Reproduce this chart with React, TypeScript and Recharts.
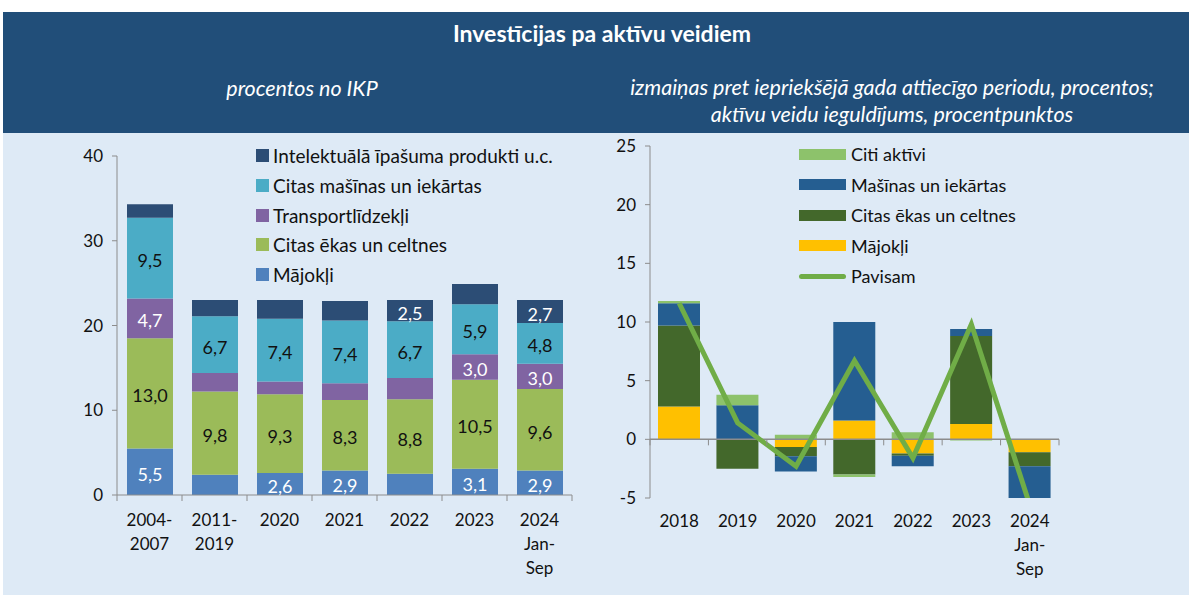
import React from "react";
import {
  BarChart, Bar, XAxis, YAxis, LabelList, ComposedChart, Line, ReferenceLine
} from "recharts";

// ---- left chart: procentos no IKP ----
const leftCats = ["2004-\n2007", "2011-\n2019", "2020", "2021", "2022", "2023", "2024\nJan-\nSep"];
const leftMajokli = [5.5, 2.4, 2.6, 2.9, 2.5, 3.1, 2.9];
const leftEkas = [13.0, 9.8, 9.3, 8.3, 8.8, 10.5, 9.6];
const leftTransport = [4.7, 2.2, 1.5, 2.0, 2.5, 3.0, 3.0];
const leftMasinas = [9.5, 6.7, 7.4, 7.4, 6.7, 5.9, 4.8];
const leftIP = [1.6, 1.9, 2.2, 2.3, 2.5, 2.4, 2.7];
// which segments carry a value label
const showMajokli = [1, 0, 1, 1, 0, 1, 1];
const showEkas = [1, 1, 1, 1, 1, 1, 1];
const showTransport = [1, 0, 0, 0, 0, 1, 1];
const showMasinas = [1, 1, 1, 1, 1, 1, 1];
const showIP = [0, 0, 0, 0, 1, 0, 1];
const leftTicks = [0, 10, 20, 30, 40];

// ---- right chart: izmaiņas, procenti / procentpunkti ----
const rightCats = ["2018", "2019", "2020", "2021", "2022", "2023", "2024\nJan-\nSep"];
const rightMajokli = [2.8, 0, -0.65, 1.6, -1.2, 1.3, -1.1];
const rightEkas = [6.9, -2.5, -0.8, -3.0, -0.2, 7.5, -1.2];
const rightMasinas = [1.9, 2.9, -1.3, 8.4, -0.9, 0.6, -3.3];
const rightCiti = [0.2, 0.9, 0.4, -0.2, 0.6, -0.1, 0];
const rightPavisam = [11.6, 1.4, -2.3, 6.7, -1.6, 9.8, -5.6];
const rightTicks = [-5, 0, 5, 10, 15, 20, 25];

const FONT = "Lato, 'Open Sans', sans-serif";
const AXIS = "#8c8c8c";

const C = {
  ip: "#2C4D75",
  masinas: "#4BACC6",
  transport: "#8064A2",
  ekas: "#9BBB59",
  majokli: "#4F81BD",
  rCiti: "#8DC26B",
  rMasinas: "#255E91",
  rEkas: "#43682B",
  rMajokli: "#FFC000",
  rPavisam: "#70AD47",
};

const leftData = leftCats.map((cat, i) => ({
  cat,
  majokli: leftMajokli[i],
  ekas: leftEkas[i],
  transport: leftTransport[i],
  masinas: leftMasinas[i],
  ip: leftIP[i],
}));

const rightData = rightCats.map((cat, i) => ({
  cat,
  majokli: rightMajokli[i],
  ekas: rightEkas[i],
  masinas: rightMasinas[i],
  citi: rightCiti[i],
  pavisam: rightPavisam[i],
}));

// geometry of the two plots (chart-local)
const L = { w: 600, h: 462, top: 23, bottom: 100, left: 117, right: 28 };
const R = { w: 589, h: 462, top: 13, bottom: 97, left: 50, right: 130 };
const lPlotBottom = L.h - L.bottom;
const lBand = (L.w - L.left - L.right) / leftCats.length;
const rPlotH = R.h - R.top - R.bottom;
const rZeroY = R.top + rPlotH * (25 / 30);
const rBand = (R.w - R.left - R.right) / rightCats.length;

const fmt = (v: number) => v.toFixed(1).replace(".", ",");

function makeLabel(show: number[], color: string) {
  return (props: any) => {
    const { x, y, width, height, value, index } = props;
    if (!show[index]) return null;
    return (
      <text
        x={x + width / 2}
        y={y + height / 2 + 2}
        textAnchor="middle"
        dominantBaseline="central"
        fontSize={18}
        fontFamily={FONT}
        fill={color}
      >
        {fmt(value)}
      </text>
    );
  };
}

function CatTick(props: any) {
  const { x, payload, index, lineY, textY, band, count } = props;
  const lines = String(payload.value).split("\n");
  return (
    <g>
      <line x1={x - band / 2} x2={x - band / 2} y1={lineY} y2={lineY + 6} stroke={AXIS} />
      {index === count - 1 && (
        <line x1={x + band / 2} x2={x + band / 2} y1={lineY} y2={lineY + 6} stroke={AXIS} />
      )}
      {lines.map((t, k) => (
        <text
          key={k}
          x={x}
          y={textY + k * 24}
          textAnchor="middle"
          dominantBaseline="central"
          fontSize={17}
          fontFamily={FONT}
          fill="#111"
        >
          {t}
        </text>
      ))}
    </g>
  );
}

const leftLegend = [
  { name: "Intelektuālā īpašuma produkti u.c.", color: C.ip },
  { name: "Citas mašīnas un iekārtas", color: C.masinas },
  { name: "Transportlīdzekļi", color: C.transport },
  { name: "Citas ēkas un celtnes", color: C.ekas },
  { name: "Mājokļi", color: C.majokli },
];

const rightLegend = [
  { name: "Citi aktīvi", color: C.rCiti, line: false },
  { name: "Mašīnas un iekārtas", color: C.rMasinas, line: false },
  { name: "Citas ēkas un celtnes", color: C.rEkas, line: false },
  { name: "Mājokļi", color: C.rMajokli, line: false },
  { name: "Pavisam", color: C.rPavisam, line: true },
];

export default function App() {
  return (
    <div style={{ position: "absolute", left: 0, top: 0, width: 1189, height: 595, background: "#fff", fontFamily: FONT, overflow: "hidden" }}>
      {/* header */}
      <div style={{ position: "absolute", left: 3, top: 12, width: 1186, height: 121, background: "#214E79" }} />
      <div style={{ position: "absolute", left: 602, top: 33, transform: "translate(-50%, -50%)", color: "#fff", fontWeight: 700, fontSize: 23, whiteSpace: "nowrap" }}>
        Investīcijas pa aktīvu veidiem
      </div>
      <div style={{ position: "absolute", left: 302, top: 88, transform: "translate(-50%, -50%)", color: "#fff", fontStyle: "italic", fontSize: 21.5, whiteSpace: "nowrap" }}>
        procentos no IKP
      </div>
      <div style={{ position: "absolute", left: 892, top: 101, transform: "translate(-50%, -50%)", color: "#fff", fontStyle: "italic", fontSize: 21.5, lineHeight: "27px", textAlign: "center", whiteSpace: "nowrap" }}>
        izmaiņas pret iepriekšējā gada attiecīgo periodu, procentos;<br />
        aktīvu veidu ieguldījums, procentpunktos
      </div>
      <div style={{ position: "absolute", left: 3, top: 133, width: 1186, height: 462, background: "#DEEAF6" }} />

      {/* left chart */}
      <div style={{ position: "absolute", left: 0, top: 133 }}>
        <BarChart width={L.w} height={L.h} data={leftData} margin={{ top: L.top, right: L.right, bottom: 20, left: 0 }} barSize={46}>
          <XAxis
            dataKey="cat"
            height={80}
            axisLine={{ stroke: AXIS }}
            tickLine={false}
            interval={0}
            tick={<CatTick lineY={lPlotBottom} textY={lPlotBottom + 24} band={lBand} count={leftCats.length} />}
          />
          <YAxis
            width={L.left}
            domain={[0, 40]}
            ticks={leftTicks}
            axisLine={{ stroke: AXIS }}
            tickLine={{ stroke: AXIS }}
            tickSize={5}
            tickMargin={9}
            tick={{ fontSize: 17, fill: "#111", fontFamily: FONT }}
          />
          <Bar dataKey="majokli" stackId="a" fill={C.majokli} isAnimationActive={false}>
            <LabelList dataKey="majokli" content={makeLabel(showMajokli, "#fff")} />
          </Bar>
          <Bar dataKey="ekas" stackId="a" fill={C.ekas} isAnimationActive={false}>
            <LabelList dataKey="ekas" content={makeLabel(showEkas, "#111")} />
          </Bar>
          <Bar dataKey="transport" stackId="a" fill={C.transport} isAnimationActive={false}>
            <LabelList dataKey="transport" content={makeLabel(showTransport, "#fff")} />
          </Bar>
          <Bar dataKey="masinas" stackId="a" fill={C.masinas} isAnimationActive={false}>
            <LabelList dataKey="masinas" content={makeLabel(showMasinas, "#111")} />
          </Bar>
          <Bar dataKey="ip" stackId="a" fill={C.ip} isAnimationActive={false}>
            <LabelList dataKey="ip" content={makeLabel(showIP, "#fff")} />
          </Bar>
        </BarChart>
      </div>
      <div style={{ position: "absolute", left: 256, top: 141 }}>
        {leftLegend.map((it) => (
          <div key={it.name} style={{ display: "flex", alignItems: "center", height: 29.7, fontSize: 19, color: "#111", whiteSpace: "nowrap" }}>
            <span style={{ display: "inline-block", width: 13, height: 13, background: it.color, marginRight: 4 }} />
            {it.name}
          </div>
        ))}
      </div>

      {/* right chart */}
      <div style={{ position: "absolute", left: 600, top: 133 }}>
        <ComposedChart width={R.w} height={R.h} data={rightData} stackOffset="sign" margin={{ top: R.top, right: R.right, bottom: 17, left: 0 }} barSize={42}>
          <XAxis
            dataKey="cat"
            height={80}
            axisLine={false}
            tickLine={false}
            interval={0}
            tick={<CatTick lineY={rZeroY} textY={R.top + rPlotH + 22} band={rBand} count={rightCats.length} />}
          />
          <YAxis
            width={R.left}
            domain={[-5, 25]}
            ticks={rightTicks}
            allowDataOverflow
            axisLine={{ stroke: AXIS }}
            tickLine={{ stroke: AXIS }}
            tickSize={5}
            tickMargin={9}
            tick={{ fontSize: 17, fill: "#111", fontFamily: FONT }}
          />
          <Bar dataKey="majokli" stackId="r" fill={C.rMajokli} isAnimationActive={false} />
          <Bar dataKey="ekas" stackId="r" fill={C.rEkas} isAnimationActive={false} />
          <Bar dataKey="masinas" stackId="r" fill={C.rMasinas} isAnimationActive={false} />
          <Bar dataKey="citi" stackId="r" fill={C.rCiti} isAnimationActive={false} />
          <ReferenceLine y={0} stroke={AXIS} strokeWidth={1.5} />
          <Line type="linear" dataKey="pavisam" stroke={C.rPavisam} strokeWidth={5} dot={false} isAnimationActive={false} />
        </ComposedChart>
      </div>
      <div style={{ position: "absolute", left: 799, top: 139 }}>
        {rightLegend.map((it) => (
          <div key={it.name} style={{ display: "flex", alignItems: "center", height: 30.5, fontSize: 18, color: "#111", whiteSpace: "nowrap" }}>
            <span style={{ display: "inline-block", width: 47, height: it.line ? 5 : 11, borderRadius: it.line ? 3 : 0, background: it.color, marginRight: 5 }} />
            {it.name}
          </div>
        ))}
      </div>
    </div>
  );
}
